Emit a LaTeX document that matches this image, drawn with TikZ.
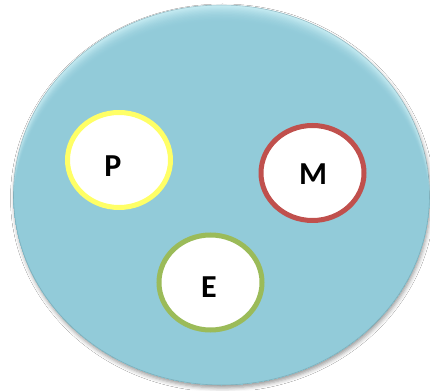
\documentclass[tikz,border=0pt]{standalone}
\usepackage{fontspec}
\setmainfont{Carlito}
\usetikzlibrary{shapes.geometric,shadows.blur}

\definecolor{discbase}{HTML}{92CBD9}
\definecolor{disclight}{HTML}{C8EDF4}
\definecolor{ringP}{HTML}{FFFF66}
\definecolor{ringM}{HTML}{C0504D}
\definecolor{ringE}{HTML}{9BBB59}

\tikzset{
  ring/.style={ellipse, draw, line width=5pt, fill=white, inner sep=0pt,
               minimum width=103pt, minimum height=95pt},
  letter/.style={font=\fontsize{32}{32}\selectfont\bfseries, inner sep=0pt}
}

\begin{document}
\begin{tikzpicture}[x=1pt,y=1pt]
  \useasboundingbox (0,0) rectangle (430,390);
  \fill[white] (0,0) rectangle (430,390);

  % the disc, with a soft shadow underneath
  \fill[discbase, blur shadow={shadow xshift=1pt, shadow yshift=-3pt,
        shadow blur radius=4pt, shadow opacity=40}]
        (221.5,195) ellipse [x radius=208, y radius=190];

  % bevelled top rim: lighter bands stacked from the rim inwards
  \begin{scope}
    \clip (221.5,195) ellipse [x radius=208, y radius=190];
    \foreach \k in {0,...,30}{
      \pgfmathsetmacro{\mixv}{(1-\k/30)^2*100}
      \fill[disclight!\mixv!discbase]
        (221.5,195-\k*0.6) ellipse [x radius=208, y radius=190];
    }
  \end{scope}
  \draw[discbase!70!black, line width=0.6pt, opacity=0.45]
        (221.5,195) ellipse [x radius=208, y radius=190];

  % the three rings
  \node[ring, draw=ringP] (p) at (119,230) {};
  \node[ring, draw=ringM] (m) at (312.5,217) {};
  \node[ring, draw=ringE] (e) at (210.5,107.5) {};

  \node[letter] (pl) at (113,224) {P};
  \node[letter] (ml) at (313,216) {M};
  \node[letter] (el) at (209,103) {E};
\end{tikzpicture}
\end{document}
